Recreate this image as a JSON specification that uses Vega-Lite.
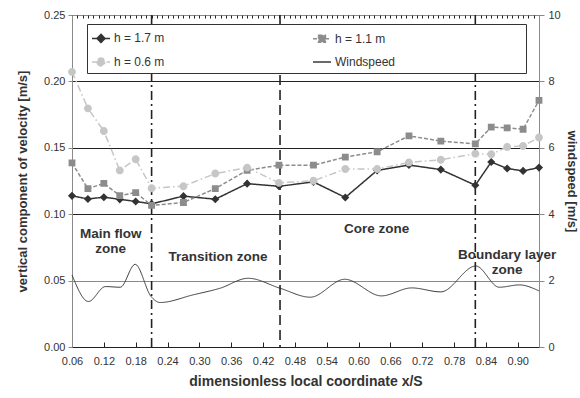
{
  "$schema": "https://vega.github.io/schema/vega-lite/v6.json",
  "autosize": {"type": "none"},
  "padding": {"left": 72, "top": 15, "right": 41, "bottom": 51},
  "width": 467,
  "height": 332,
  "config": {
    "font": "Liberation Sans",
    "view": {"stroke": "#8a8a8a", "strokeWidth": 1},
    "axis": {"labelFont": "Liberation Sans", "labelFontSize": 11, "labelColor": "#333", "titleFont": "Liberation Sans", "titleColor": "#333", "titleFontWeight": "bold"}
  },
  "datasets": {
    "vel": [
      {"series": "h = 1.7 m", "x": 0.06, "v": 0.1138},
      {"series": "h = 1.7 m", "x": 0.09, "v": 0.1115},
      {"series": "h = 1.7 m", "x": 0.12, "v": 0.1128},
      {"series": "h = 1.7 m", "x": 0.15, "v": 0.1112},
      {"series": "h = 1.7 m", "x": 0.18, "v": 0.1096},
      {"series": "h = 1.7 m", "x": 0.21, "v": 0.1078},
      {"series": "h = 1.7 m", "x": 0.27, "v": 0.1136},
      {"series": "h = 1.7 m", "x": 0.33, "v": 0.1113},
      {"series": "h = 1.7 m", "x": 0.39, "v": 0.123},
      {"series": "h = 1.7 m", "x": 0.45, "v": 0.121},
      {"series": "h = 1.7 m", "x": 0.515, "v": 0.1243},
      {"series": "h = 1.7 m", "x": 0.575, "v": 0.1126},
      {"series": "h = 1.7 m", "x": 0.635, "v": 0.133},
      {"series": "h = 1.7 m", "x": 0.695, "v": 0.137},
      {"series": "h = 1.7 m", "x": 0.755, "v": 0.1336},
      {"series": "h = 1.7 m", "x": 0.82, "v": 0.1218},
      {"series": "h = 1.7 m", "x": 0.85, "v": 0.1393},
      {"series": "h = 1.7 m", "x": 0.88, "v": 0.1344},
      {"series": "h = 1.7 m", "x": 0.91, "v": 0.1326},
      {"series": "h = 1.7 m", "x": 0.94, "v": 0.1351},
      {"series": "h = 1.1 m", "x": 0.06, "v": 0.1386},
      {"series": "h = 1.1 m", "x": 0.09, "v": 0.1192},
      {"series": "h = 1.1 m", "x": 0.12, "v": 0.1232},
      {"series": "h = 1.1 m", "x": 0.15, "v": 0.114},
      {"series": "h = 1.1 m", "x": 0.18, "v": 0.1163},
      {"series": "h = 1.1 m", "x": 0.21, "v": 0.1066},
      {"series": "h = 1.1 m", "x": 0.27, "v": 0.1088},
      {"series": "h = 1.1 m", "x": 0.33, "v": 0.1193},
      {"series": "h = 1.1 m", "x": 0.39, "v": 0.133},
      {"series": "h = 1.1 m", "x": 0.45, "v": 0.1369},
      {"series": "h = 1.1 m", "x": 0.515, "v": 0.1369},
      {"series": "h = 1.1 m", "x": 0.575, "v": 0.143},
      {"series": "h = 1.1 m", "x": 0.635, "v": 0.147},
      {"series": "h = 1.1 m", "x": 0.695, "v": 0.159},
      {"series": "h = 1.1 m", "x": 0.755, "v": 0.155},
      {"series": "h = 1.1 m", "x": 0.82, "v": 0.153},
      {"series": "h = 1.1 m", "x": 0.85, "v": 0.1656},
      {"series": "h = 1.1 m", "x": 0.88, "v": 0.165},
      {"series": "h = 1.1 m", "x": 0.91, "v": 0.164},
      {"series": "h = 1.1 m", "x": 0.94, "v": 0.1857},
      {"series": "h = 0.6 m", "x": 0.06, "v": 0.2072},
      {"series": "h = 0.6 m", "x": 0.09, "v": 0.1797},
      {"series": "h = 0.6 m", "x": 0.12, "v": 0.1626},
      {"series": "h = 0.6 m", "x": 0.15, "v": 0.133},
      {"series": "h = 0.6 m", "x": 0.18, "v": 0.1414},
      {"series": "h = 0.6 m", "x": 0.21, "v": 0.1196},
      {"series": "h = 0.6 m", "x": 0.27, "v": 0.1211},
      {"series": "h = 0.6 m", "x": 0.33, "v": 0.1306},
      {"series": "h = 0.6 m", "x": 0.39, "v": 0.1351},
      {"series": "h = 0.6 m", "x": 0.45, "v": 0.1236},
      {"series": "h = 0.6 m", "x": 0.515, "v": 0.1252},
      {"series": "h = 0.6 m", "x": 0.575, "v": 0.134},
      {"series": "h = 0.6 m", "x": 0.635, "v": 0.134},
      {"series": "h = 0.6 m", "x": 0.695, "v": 0.139},
      {"series": "h = 0.6 m", "x": 0.755, "v": 0.141},
      {"series": "h = 0.6 m", "x": 0.82, "v": 0.1456},
      {"series": "h = 0.6 m", "x": 0.85, "v": 0.1451},
      {"series": "h = 0.6 m", "x": 0.88, "v": 0.1506},
      {"series": "h = 0.6 m", "x": 0.91, "v": 0.1514},
      {"series": "h = 0.6 m", "x": 0.94, "v": 0.1577}
    ],
    "wind": [
      {"series": "Windspeed", "x": 0.06, "ws": 2.17},
      {"series": "Windspeed", "x": 0.091, "ws": 1.37},
      {"series": "Windspeed", "x": 0.123, "ws": 1.82},
      {"series": "Windspeed", "x": 0.151, "ws": 1.8},
      {"series": "Windspeed", "x": 0.179, "ws": 2.49},
      {"series": "Windspeed", "x": 0.209, "ws": 1.52},
      {"series": "Windspeed", "x": 0.226, "ws": 1.34},
      {"series": "Windspeed", "x": 0.288, "ws": 1.57},
      {"series": "Windspeed", "x": 0.339, "ws": 1.77},
      {"series": "Windspeed", "x": 0.392, "ws": 2.07},
      {"series": "Windspeed", "x": 0.452, "ws": 1.77},
      {"series": "Windspeed", "x": 0.509, "ws": 1.5},
      {"series": "Windspeed", "x": 0.574, "ws": 2.04},
      {"series": "Windspeed", "x": 0.643, "ws": 1.54},
      {"series": "Windspeed", "x": 0.7, "ws": 1.78},
      {"series": "Windspeed", "x": 0.755, "ws": 1.66},
      {"series": "Windspeed", "x": 0.821, "ws": 2.44},
      {"series": "Windspeed", "x": 0.865, "ws": 1.8},
      {"series": "Windspeed", "x": 0.903, "ws": 1.87},
      {"series": "Windspeed", "x": 0.94, "ws": 1.69}
    ],
    "zones": [
      {"label": "Main flow\nzone", "x": 0.133, "v": 0.085},
      {"label": "Transition zone", "x": 0.335, "v": 0.0678},
      {"label": "Core zone", "x": 0.634, "v": 0.0888},
      {"label": "Boundary layer\nzone", "x": 0.88, "v": 0.0693}
    ]
  },
  "resolve": {"scale": {"y": "independent"}, "axis": {"x": "independent", "y": "independent"}},
  "layer": [
    {
      "data": {"name": "wind"},
      "mark": {"type": "line", "interpolate": "monotone", "strokeWidth": 1},
      "encoding": {
        "x": {"field": "x", "type": "quantitative", "scale": {"domain": [0.06, 0.94], "nice": false, "zero": false}, "axis": null},
        "y": {"field": "ws", "type": "quantitative", "scale": {"domain": [0, 10], "nice": false},
          "axis": {"orient": "right", "title": "windspeed [m/s]", "titleFontSize": 13, "values": [0, 2, 4, 6, 8, 10], "tickSize": 5, "tickColor": "#8a8a8a", "domainColor": "#8a8a8a", "labelPadding": 4, "titlePadding": 4, "grid": false}},
        "color": {"field": "series", "type": "nominal"},
        "strokeDash": {"field": "series", "type": "nominal"}
      }
    },
    {
      "data": {"values": [{"x": 0.21}, {"x": 0.82}]},
      "mark": {"type": "rule", "color": "#222", "strokeWidth": 1.6, "strokeDash": [9, 4, 2, 4]},
      "encoding": {"x": {"field": "x", "type": "quantitative", "axis": null}}
    },
    {
      "data": {"values": [{"x": 0.452}]},
      "mark": {"type": "rule", "color": "#222", "strokeWidth": 1.6, "strokeDash": [10, 5]},
      "encoding": {"x": {"field": "x", "type": "quantitative", "axis": null}}
    },
    {
      "data": {"name": "vel"},
      "mark": {"type": "line", "strokeWidth": 1.5},
      "encoding": {
        "x": {"field": "x", "type": "quantitative",
          "axis": {"title": "dimensionless local coordinate x/S", "titleFontSize": 14, "values": [0.06, 0.12, 0.18, 0.24, 0.3, 0.36, 0.42, 0.48, 0.54, 0.6, 0.66, 0.72, 0.78, 0.84, 0.9], "format": ".2f", "labelOverlap": false, "labelFlush": false, "tickSize": -5, "tickColor": "#222", "domainColor": "#222", "labelPadding": 13, "titlePadding": 8, "grid": false}},
        "y": {"field": "v", "type": "quantitative", "scale": {"domain": [0, 0.25], "nice": false},
          "axis": {"title": "vertical component of velocity [m/s]", "titleFontSize": 13, "values": [0, 0.05, 0.1, 0.15, 0.2, 0.25], "format": ".2f", "tickSize": 4, "tickColor": "#8a8a8a", "domainColor": "#8a8a8a", "labelPadding": 3, "titlePadding": 14, "grid": true,
            "gridColor": {"condition": {"test": "(datum.value > 0.04 && datum.value < 0.06) || datum.value > 0.24", "value": "#8a8a8a"}, "value": "#222"}}},
        "color": {"field": "series", "type": "nominal",
          "scale": {"domain": ["h = 1.7 m", "h = 1.1 m", "h = 0.6 m", "Windspeed"], "range": ["#333333", "#8c8c8c", "#c6c6c6", "#3a3a3a"]},
          "legend": {"orient": "none", "legendX": 15, "legendY": 9, "direction": "horizontal", "columns": 2, "columnPadding": 145, "rowPadding": 6, "padding": 4, "strokeColor": "#333", "fillColor": "white", "title": null, "symbolSize": 324, "symbolStrokeWidth": 1.5, "labelFontSize": 12, "labelColor": "#333", "labelLimit": 400, "labelOffset": 3,
            "labelExpr": "datum.label == 'Windspeed' ? pad(datum.label, 47, '\u00a0', 'right') + '\u200b' : datum.label"}},
        "strokeDash": {"field": "series", "type": "nominal",
          "scale": {"domain": ["h = 1.7 m", "h = 1.1 m", "h = 0.6 m", "Windspeed"], "range": [[1, 0], [4, 2], [7, 3, 1.5, 3], [1, 0]]}}
      }
    },
    {
      "data": {"name": "vel"},
      "mark": {"type": "point", "filled": true, "opacity": 1, "size": 324},
      "encoding": {
        "x": {"field": "x", "type": "quantitative",
          "axis": {"values": [0.06, 0.07, 0.08, 0.09, 0.1, 0.11, 0.12, 0.13, 0.14, 0.15, 0.16, 0.17, 0.18, 0.19, 0.2, 0.21, 0.22, 0.23, 0.24, 0.25, 0.26, 0.27, 0.28, 0.29, 0.3, 0.31, 0.32, 0.33, 0.34, 0.35, 0.36, 0.37, 0.38, 0.39, 0.4, 0.41, 0.42, 0.43, 0.44, 0.45, 0.46, 0.47, 0.48, 0.49, 0.5, 0.51, 0.52, 0.53, 0.54, 0.55, 0.56, 0.57, 0.58, 0.59, 0.6, 0.61, 0.62, 0.63, 0.64, 0.65, 0.66, 0.67, 0.68, 0.69, 0.7, 0.71, 0.72, 0.73, 0.74, 0.75, 0.76, 0.77, 0.78, 0.79, 0.8, 0.81, 0.82, 0.83, 0.84, 0.85, 0.86, 0.87, 0.88, 0.89, 0.9, 0.91, 0.92, 0.93, 0.94], "labels": false, "domain": false, "title": null, "tickSize": -3, "tickColor": "#222", "grid": false}},
        "y": {"field": "v", "type": "quantitative", "scale": {"domain": [0, 0.25], "nice": false}, "axis": null},
        "color": {"field": "series", "type": "nominal"},
        "shape": {"field": "series", "type": "nominal",
          "scale": {"domain": ["h = 1.7 m", "h = 1.1 m", "h = 0.6 m", "Windspeed"],
            "range": ["M-1,0H1M0,-0.45L0.45,0L0,0.45L-0.45,0Z", "M-1,0H1M-0.38,-0.38H0.38V0.38H-0.38Z", "M-1,0H1M-0.44,0A0.44,0.44,0,1,0,0.44,0A0.44,0.44,0,1,0,-0.44,0Z", "M-1,0H1"]}}
      }
    },
    {
      "data": {"name": "zones"},
      "mark": {"type": "text", "fontWeight": "bold", "fontSize": 13.5, "color": "#333", "align": "center", "baseline": "middle", "lineBreak": "\n", "lineHeight": 15},
      "encoding": {
        "x": {"field": "x", "type": "quantitative", "axis": null},
        "y": {"field": "v", "type": "quantitative", "scale": {"domain": [0, 0.25], "nice": false}, "axis": null},
        "text": {"field": "label"}
      }
    }
  ]
}
